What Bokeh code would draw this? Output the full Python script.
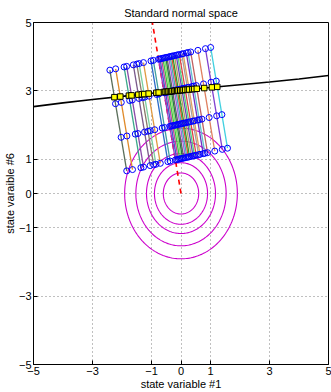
import numpy as np
from bokeh.plotting import figure
from bokeh.models import FixedTicker, Range1d
from bokeh.embed import file_html
from bokeh.resources import INLINE

# ---------------- data ----------------
tick_vals = [-5, -3, -1, 0, 1, 3, 5]
tick_text = ["\u22125", "\u22123", "\u22121", "0", "1", "3", "5"]

# limit-state curve (black)
ls_x = [-5, -4, -3, -2, -1, 0, 1, 2, 3, 4, 5]
ls_y = [2.54, 2.65, 2.75, 2.84, 2.93, 3.02, 3.10, 3.18, 3.26, 3.35, 3.45]

# important direction (red dashed), from the origin
dir_x = [0, -0.97]
dir_y = [0, 5.0]

# contour radii (magenta circles)
radii = [0.6, 0.9, 1.17, 1.53, 1.91]

# sampling lines: offset orthogonal to the important direction
line_s = [-1.68, -1.48, -1.19, -1.10, -0.87, -0.75, -0.67, -0.52, -0.26, -0.18,
          0.00, 0.05, 0.10, 0.15, 0.20, 0.25, 0.29, 0.35, 0.40, 0.45, 0.49,
          0.55, 0.61, 0.66, 0.72, 0.80, 0.85, 0.96, 1.02, 1.11, 1.36, 1.62, 1.80]
line_colors = ["#5a6e5a", "#e08a2a", "#3aa88a", "#8a4aa8", "#7a5a8a", "#8a7a6a",
               "#7ad0a0", "#e09a40", "#2a6ac8", "#40a0a0", "#a030c0", "#3a5ad0",
               "#c040a0", "#40c040", "#80e060", "#208040", "#606060", "#a060e0",
               "#40b0b0", "#e05030", "#2a9a2a", "#b0a060", "#6a40c0", "#50d080",
               "#e04040", "#a0a0a0", "#e0a060", "#7030c0", "#60c0d0", "#c06060",
               "#e08060", "#8040d0", "#40d0e0"]
# sample distances along each line
sample_t = [1.0, 2.0, 3.0, 4.0]

# ---------------- geometry ----------------
d = np.array(dir_x[1:] + dir_y[1:], dtype=float)
u = d / np.linalg.norm(d)          # along the line
v = np.array([u[1], -u[0]])        # orthogonal

fig = figure(width=331, height=392, output_backend="svg", toolbar_location=None,
             x_range=Range1d(-5, 5), y_range=Range1d(-5, 5),
             title="Standard normal space",
             min_border_left=0, min_border_right=3, min_border_top=0, min_border_bottom=0)

fig.title.text_font = "Liberation Sans"
fig.title.text_font_size = "11px"
fig.title.text_font_style = "normal"
fig.title.align = "center"
fig.title.text_color = "black"
fig.title.offset = 0
fig.title.standoff = 8

fig.outline_line_color = "black"
fig.outline_line_width = 1
fig.background_fill_color = "white"
fig.border_fill_color = "white"

ticker = FixedTicker(ticks=tick_vals)
overrides = {t: s for t, s in zip(tick_vals, tick_text)}
for ax in (fig.xaxis[0], fig.yaxis[0]):
    ax.ticker = ticker
    ax.major_label_overrides = overrides
    ax.major_label_text_font = "Liberation Sans"
    ax.major_label_text_font_size = "11px"
    ax.major_label_text_color = "black"
    ax.axis_label_text_font = "Liberation Sans"
    ax.axis_label_text_font_size = "11px"
    ax.axis_label_text_font_style = "normal"
    ax.axis_label_text_color = "black"
    ax.major_tick_in = 4
    ax.major_tick_out = 0
    ax.minor_tick_in = 0
    ax.minor_tick_out = 0
    ax.axis_line_color = "black"
    ax.major_tick_line_color = "black"
    ax.major_label_standoff = 2
    ax.axis_label_standoff = 0
fig.xaxis[0].axis_label = "state variable #1"
fig.yaxis[0].axis_label = "state varaible #6"

for g in fig.grid:
    g.ticker = ticker
    g.grid_line_color = "#808080"
    g.grid_line_dash = "1 3"
    g.grid_line_width = 1

# magenta contours
theta = np.linspace(0, 2 * np.pi, 200)
for r in radii:
    fig.line(r * np.cos(theta), r * np.sin(theta), line_color="#cc00cc", line_width=1.1)

# red dashed important direction
fig.line(dir_x, dir_y, line_color="red", line_width=1.6, line_dash="5 4")

# limit state
fig.line(ls_x, ls_y, line_color="black", line_width=1.6)

# sampling lines
pts_x, pts_y, ix, iy = [], [], [], []
tt = np.linspace(sample_t[0], sample_t[-1], 400)
for s, c in zip(line_s, line_colors):
    xs = s * v[0] + np.array(sample_t) * u[0]
    ys = s * v[1] + np.array(sample_t) * u[1]
    fig.line([xs[0], xs[-1]], [ys[0], ys[-1]], line_color=c, line_width=1.3)
    pts_x.extend(xs)
    pts_y.extend(ys)
    # intersection with limit state
    lx = s * v[0] + tt * u[0]
    ly = s * v[1] + tt * u[1]
    g = ly - np.interp(lx, ls_x, ls_y)
    k = np.where(np.sign(g[:-1]) != np.sign(g[1:]))[0]
    if len(k):
        k = k[0]
        f = g[k] / (g[k] - g[k + 1])
        ix.append(lx[k] + f * (lx[k + 1] - lx[k]))
        iy.append(ly[k] + f * (ly[k + 1] - ly[k]))

fig.scatter(pts_x, pts_y, marker="circle", size=6, fill_color=None,
            line_color="#0000ff", line_width=1)
fig.scatter(ix, iy, marker="square", size=5.5, fill_color="#ffff00",
            line_color="black", line_width=1)

open("out.html", "w").write(file_html(fig, INLINE))
